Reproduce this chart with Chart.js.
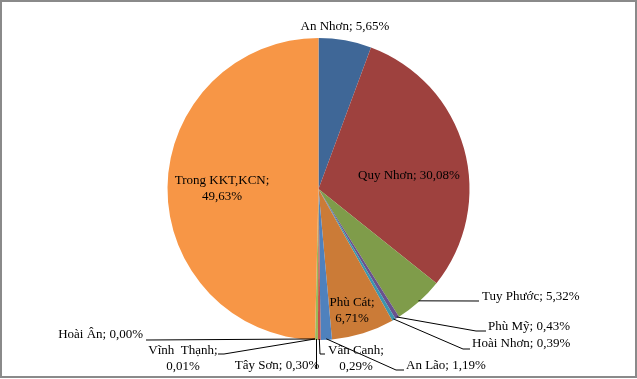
<!DOCTYPE html>
<html>
<head>
<meta charset="utf-8">
<script src="https://cdn.jsdelivr.net/npm/chart.js@4/dist/chart.umd.min.js"></script>
<style>
  html, body { margin: 0; padding: 0; background: #fff; }
  #wrap { width: 637px; height: 379px; }
</style>
</head>
<body>
<div id="wrap"><canvas id="chart" width="637" height="379"></canvas></div>
<script>
// dữ liệu (%)
const districts = [
  "An Nhơn", "Quy Nhơn", "Tuy Phước", "Phù Mỹ", "Hoài Nhơn", "Phù Cát",
  "An Lão", "Vân Canh", "Tây Sơn", "Vĩnh  Thạnh", "Hoài Ân", "Trong KKT,KCN"
]
const shares = [5.65, 30.08, 5.32, 0.43, 0.39, 6.71, 1.19, 0.29, 0.30, 0.01, 0.00, 49.63]
const sliceColors = [
  "#3f6797", "#9e413e", "#7f9c4a", "#69528e", "#3c96ae", "#cb7b37",
  "#4f81bd", "#c0504d", "#9bbb59", "#8064a2", "#4bacc6", "#f79646"
]

// vị trí nhãn (px) và đường dẫn
// mode: "c" = căn giữa, "l" = căn trái, "r" = căn phải
// split: tách nhãn thành 2 dòng
const labelLayout = [
  { x: 345, y: 27, mode: "c" },
  { x: 409, y: 176, mode: "c" },
  { x: 482, y: 297, mode: "l", leader: [[479, 301]] },
  { x: 488, y: 327, mode: "l", leader: [[476, 331], [486, 331]] },
  { x: 472, y: 344, mode: "l", leader: [[463, 349], [470, 349]] },
  { x: 352, y: 303, mode: "c", split: true },
  { x: 406, y: 366, mode: "l", leader: [[396, 370], [404, 370]] },
  { x: 356, y: 351, mode: "c", split: true, leader: [[320, 354], [325, 354]] },
  { x: 277, y: 366, mode: "c", leader: [[316.5, 369]] },
  { x: 183, y: 351, mode: "c", split: true, leader: [[224, 354], [218, 354]] },
  { x: 143, y: 335, mode: "r", leader: [[146, 340]] },
  { x: 222, y: 181, mode: "c", split: true }
]

const fmt = v => v.toFixed(2).replace(".", ",") + "%"

// vẽ nhãn + đường dẫn + khung viền
const pieLabels = {
  id: "pieLabels",
  afterDatasetsDraw(chart) {
    const ctx = chart.ctx
    const meta = chart.getDatasetMeta(0)
    ctx.save()
    ctx.font = '13px "Liberation Serif", "Times New Roman", serif'
    ctx.fillStyle = "#000"
    ctx.strokeStyle = "#000"
    ctx.lineWidth = 1
    ctx.textBaseline = "middle"

    meta.data.forEach((arc, i) => {
      const lay = labelLayout[i]
      const p = arc.getProps(["x", "y", "startAngle", "endAngle", "outerRadius"], true)
      const mid = (p.startAngle + p.endAngle) / 2

      if (lay.leader) {
        ctx.beginPath()
        ctx.moveTo(p.x + Math.cos(mid) * (p.outerRadius - 1), p.y + Math.sin(mid) * (p.outerRadius - 1))
        lay.leader.forEach(pt => ctx.lineTo(pt[0], pt[1]))
        ctx.stroke()
      }

      const name = districts[i].trim() + ";"
      const value = fmt(shares[i])
      ctx.textAlign = lay.mode === "l" ? "left" : lay.mode === "r" ? "right" : "center"
      if (lay.split) {
        ctx.fillText(name, lay.x, lay.y)
        ctx.fillText(value, lay.x, lay.y + 16)
      } else {
        ctx.fillText(name + " " + value, lay.x, lay.y)
      }
    })

    // khung viền xám
    ctx.strokeStyle = "#8a8a8a"
    ctx.lineWidth = 2
    ctx.strokeRect(1, 1, chart.width - 2, chart.height - 3)
    ctx.restore()
  }
}

new Chart(document.getElementById("chart"), {
  type: "pie",
  data: {
    labels: districts,
    datasets: [{
      data: shares,
      backgroundColor: sliceColors,
      borderWidth: 0
    }]
  },
  options: {
    responsive: false,
    animation: false,
    layout: { padding: { top: 38, bottom: 39, left: 0, right: 0 } },
    plugins: {
      legend: { display: false },
      tooltip: { enabled: false }
    }
  },
  plugins: [pieLabels]
})
</script>
</body>
</html>
